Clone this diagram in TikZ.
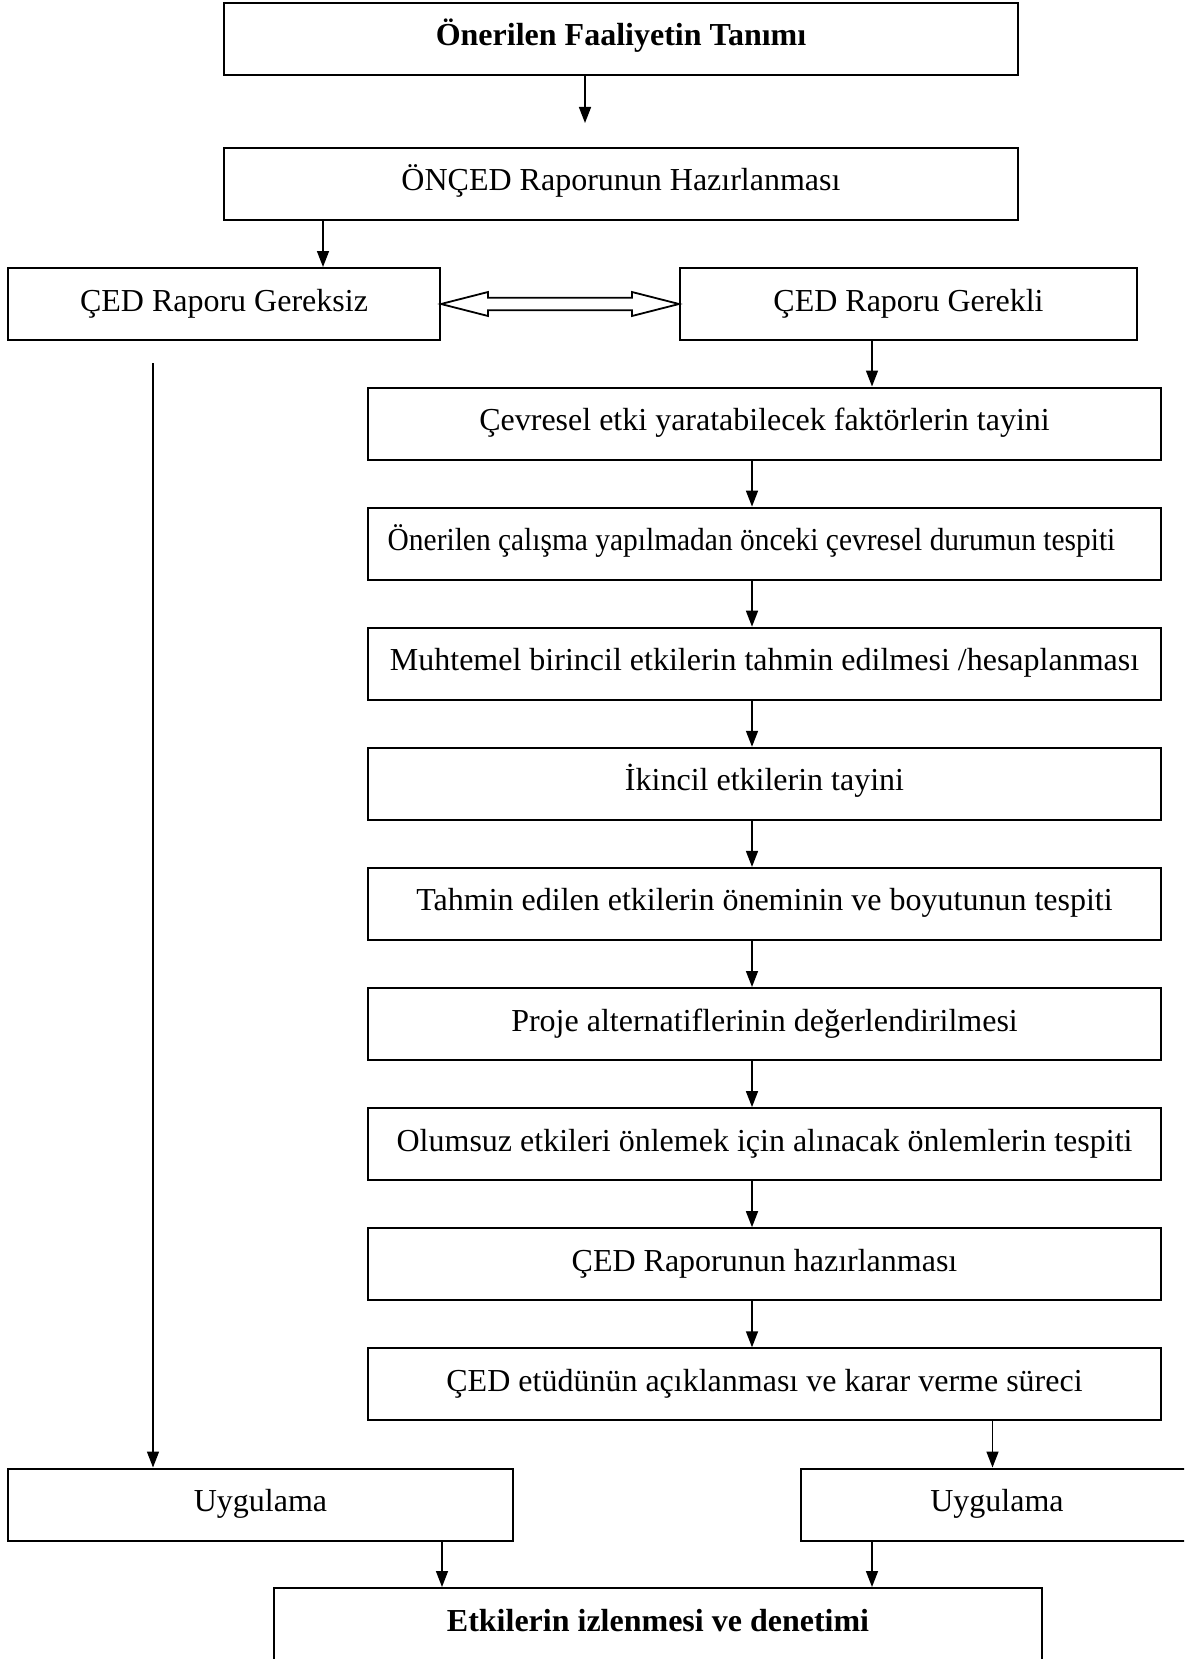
\documentclass[tikz,border=0pt]{standalone}
\usepackage{fontspec}
\setmainfont{Liberation Serif}
\usetikzlibrary{arrows.meta,calc}
\begin{document}
\begin{tikzpicture}[x=0.5pt,y=-0.5pt,
  box/.style={draw,line width=1pt,rectangle,inner sep=0pt,text height=21.5pt,text depth=14.5pt,font=\fontsize{16pt}{19pt}\selectfont},
  wide/.style={minimum width=396.5pt},
  arr/.style={line width=0.75pt,-{Triangle[length=8pt,width=6pt]}}]
\useasboundingbox (0,0) rectangle (1184,1659);
\clip (0,0) rectangle (1184,1659);
% top boxes
\node[box,minimum width=397pt] (b1) at (621,39) {\bfseries Önerilen Faaliyetin Tanımı};
\node[box,minimum width=397pt] (b2) at (621,184) {ÖNÇED Raporunun Hazırlanması};
\node[box,minimum width=216pt] (b3) at (224,304) {ÇED Raporu Gereksiz};
\node[box,minimum width=228.5pt] (b4) at (908.5,304) {ÇED Raporu Gerekli};
% right column
\node[box,wide] (r1) at (764.5,423.5) {Çevresel etki yaratabilecek faktörlerin tayini};
\node[box,wide] (r2) at (764.5,543.6) {\scalebox{0.92}[1]{Önerilen çalışma yapılmadan önceki çevresel durumun tespiti}\hspace*{13pt}};
\node[box,wide] (r3) at (764.5,663.7) {Muhtemel birincil etkilerin tahmin edilmesi /hesaplanması};
\node[box,wide] (r4) at (764.5,783.8) {İkincil etkilerin tayini};
\node[box,wide] (r5) at (764.5,903.9) {Tahmin edilen etkilerin öneminin ve boyutunun tespiti};
\node[box,wide] (r6) at (764.5,1024) {Proje alternatiflerinin değerlendirilmesi};
\node[box,wide] (r7) at (764.5,1144.1) {Olumsuz etkileri önlemek için alınacak önlemlerin tespiti};
\node[box,wide] (r8) at (764.5,1264.2) {ÇED Raporunun hazırlanması};
\node[box,wide] (r9) at (764.5,1384.3) {ÇED etüdünün açıklanması ve karar verme süreci};
% bottom
\node[box,minimum width=252.5pt] (u1) at (260.5,1504.5) {Uygulama};
\node[box,minimum width=200pt] (u2) at (1001,1504.5) {\hspace*{-4pt}Uygulama};
\node[box,minimum width=384pt,text depth=20.5pt] (b5) at (658,1630) {\bfseries Etkilerin izlenmesi ve denetimi};
% helper coordinates
\coordinate (c1) at (585,123);
\coordinate (x2) at (323,0);
\coordinate (l0) at (153,363);
\coordinate (x4) at (872,0);
\coordinate (xr) at (752,0);
\coordinate (x9) at (992.5,0);
\coordinate (xu1) at (442,0);
\coordinate (xu2) at (872,0);
% connectors
\draw[arr] (c1 |- b1.south) -- (c1);
\draw[arr] (x2 |- b2.south) -- (x2 |- b3.north);
\draw[line width=0.9pt,line join=miter] (b3.east) -- ($(b3.east)+(47,-12)$) -- ($(b3.east)+(47,-6.2)$)
  -- ($(b4.west)+(-47,-6.2)$) -- ($(b4.west)+(-47,-12)$) -- (b4.west)
  -- ($(b4.west)+(-47,12)$) -- ($(b4.west)+(-47,6.2)$)
  -- ($(b3.east)+(47,6.2)$) -- ($(b3.east)+(47,12)$) -- cycle;
\draw[arr] (l0) -- (l0 |- u1.north);
\draw[arr] (x4 |- b4.south) -- (x4 |- r1.north);
\draw[arr] (xr |- r1.south) -- (xr |- r2.north);
\draw[arr] (xr |- r2.south) -- (xr |- r3.north);
\draw[arr] (xr |- r3.south) -- (xr |- r4.north);
\draw[arr] (xr |- r4.south) -- (xr |- r5.north);
\draw[arr] (xr |- r5.south) -- (xr |- r6.north);
\draw[arr] (xr |- r6.south) -- (xr |- r7.north);
\draw[arr] (xr |- r7.south) -- (xr |- r8.north);
\draw[arr] (xr |- r8.south) -- (xr |- r9.north);
\draw[arr] (x9 |- r9.south) -- (x9 |- u2.north);
\draw[arr] (xu1 |- u1.south) -- (xu1 |- b5.north);
\draw[arr] (xu2 |- u2.south) -- (xu2 |- b5.north);
\end{tikzpicture}
\end{document}
